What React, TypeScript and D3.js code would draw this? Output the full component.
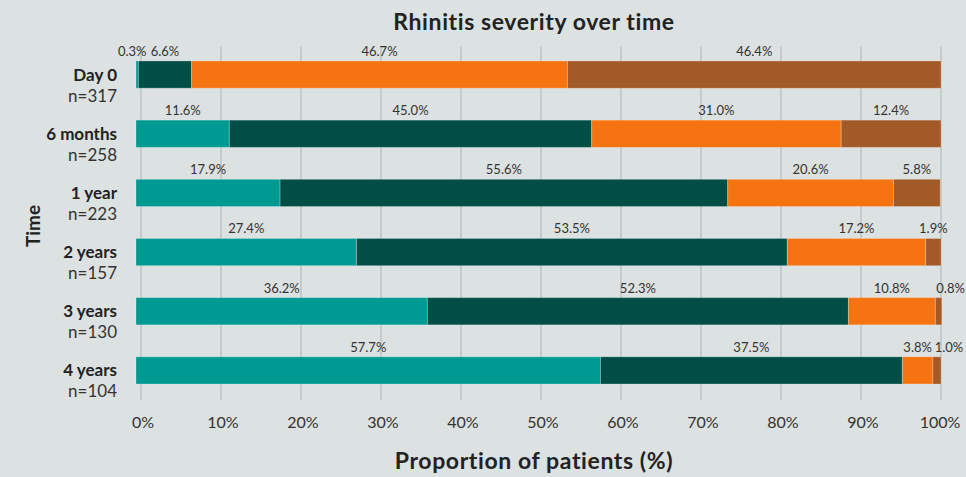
import React from "react";
import * as d3 from "d3";

// Chart data
const timepoints = ["Day 0", "6 months", "1 year", "2 years", "3 years", "4 years"];
const patientCounts = [317, 258, 223, 157, 130, 104];
const severityLevels = ["None", "Mild", "Moderate", "Severe"];
const noneValues = [0.3, 11.6, 17.9, 27.4, 36.2, 57.7];
const mildValues = [6.6, 45.0, 55.6, 53.5, 52.3, 37.5];
const moderateValues = [46.7, 31.0, 20.6, 17.2, 10.8, 3.8];
const severeValues = [46.4, 12.4, 5.8, 1.9, 0.8, 1.0];
const xTicks = [0, 10, 20, 30, 40, 50, 60, 70, 80, 90, 100];

const colors = ["#009a92", "#004e46", "#f57311", "#a25a28"];
const width = 966;
const height = 477;
const font = "Lato, 'DejaVu Sans', sans-serif";

const App = () => {
  // Build rows for the stack layout
  const rows = timepoints.map((t, i) => ({
    time: t,
    n: patientCounts[i],
    None: noneValues[i],
    Mild: mildValues[i],
    Moderate: moderateValues[i],
    Severe: severeValues[i],
  }));
  const series = d3.stack<any>().keys(severityLevels)(rows);

  // Scales
  const x = d3.scaleLinear().domain([0, 100]).range([136, 941]);
  const xGrid = d3.scaleLinear().domain([0, 100]).range([141, 941]);
  const y = d3
    .scaleBand()
    .domain(timepoints)
    .range([45, 400])
    .paddingInner(0.54)
    .paddingOuter(0.27);

  return (
    <svg
      width={width}
      height={height}
      style={{ position: "absolute", left: 0, top: 0, fontFamily: font }}
    >
      <rect width={width} height={height} fill="#dce1e1" />

      {/* Title */}
      <text x={534} y={30} textAnchor="middle" fontSize={23} fontWeight="bold" letterSpacing={0.6} fill="#222">
        Rhinitis severity over time
      </text>

      {/* Grid lines */}
      {xTicks.map((t) => (
        <line
          key={t}
          x1={xGrid(t)}
          x2={xGrid(t)}
          y1={47}
          y2={400}
          stroke="#aeb3b3"
          strokeWidth={1}
        />
      ))}

      {/* Stacked bars */}
      {series.map((s, si) => (
        <g key={s.key} fill={colors[si]}>
          {s.map((d, i) => (
            <rect
              key={i}
              x={x(d[0])}
              y={y(d.data.time)}
              width={x(d[1]) - x(d[0])}
              height={y.bandwidth()}
              stroke="#ffffff"
              strokeOpacity={0.25}
              strokeWidth={1}
            />
          ))}
        </g>
      ))}

      {/* Segment value labels */}
      {series.map((s) => (
        <g key={"lab" + s.key}>
          {s.map((d, i) => {
            const v = d[1] - d[0];
            let cx = (x(d[0]) + x(d[1])) / 2;
            if (v < 1 && d[0] < 1) cx -= 5;
            if (v <= 1 && d[1] > 99) cx += 12;
            return (
              <text
                key={i}
                x={cx}
                y={(y(d.data.time) as number) - 5}
                textAnchor="middle"
                fontSize={13}
                fill="#333"
              >
                {v.toFixed(1)}%
              </text>
            );
          })}
        </g>
      ))}

      {/* Category labels */}
      {rows.map((r) => {
        const yc = (y(r.time) as number) + y.bandwidth() / 2;
        return (
          <g key={"cat" + r.time}>
            <text x={117} y={yc + 6} textAnchor="end" fontSize={17} fontWeight="bold" fill="#222">
              {r.time}
            </text>
            <text x={117} y={yc + 27} textAnchor="end" fontSize={17} fill="#333">
              n={r.n}
            </text>
          </g>
        );
      })}

      {/* X tick labels */}
      {xTicks.map((t) => (
        <text
          key={"tk" + t}
          x={xGrid(t) + (t === 100 ? -1 : 2)}
          y={428}
          textAnchor="middle"
          fontSize={16}
          fill="#333"
        >
          {t}%
        </text>
      ))}

      {/* Axis titles */}
      <text x={534} y={469} textAnchor="middle" fontSize={23} fontWeight="bold" letterSpacing={0.6} fill="#222">
        Proportion of patients (%)
      </text>
      <text
        transform={`translate(40,${226}) rotate(-90)`}
        textAnchor="middle"
        fontSize={19}
        fontWeight="bold"
        fill="#222"
      >
        Time
      </text>
    </svg>
  );
};

export default App;
